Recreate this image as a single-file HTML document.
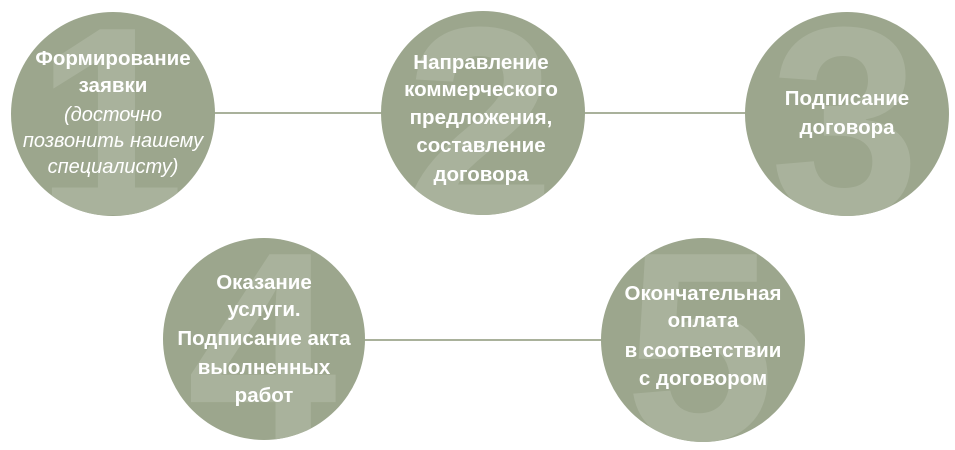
<!DOCTYPE html>
<html><head><meta charset="utf-8"><style>
html,body{margin:0;padding:0;background:#fff;width:955px;height:450px;overflow:hidden}
svg{display:block}
text{font-family:"Liberation Sans",sans-serif;fill:#fff;text-anchor:middle}
.b{font-weight:bold;font-size:20.5px}
.i{font-style:italic;font-size:20px}
.d{font-size:270px;fill:#a9b29c;font-weight:bold}
</style></head><body>
<svg width="955" height="450" viewBox="0 0 955 450" xmlns="http://www.w3.org/2000/svg">
<defs>
<clipPath id="c1"><circle cx="113" cy="114" r="102"/></clipPath>
<clipPath id="c2"><circle cx="483" cy="113" r="102"/></clipPath>
<clipPath id="c3"><circle cx="847" cy="114" r="102"/></clipPath>
<clipPath id="c4"><circle cx="264" cy="339" r="101"/></clipPath>
<clipPath id="c5"><circle cx="703" cy="340" r="102"/></clipPath>
</defs>
<line x1="210" y1="113" x2="390" y2="113" stroke="#a9b19b" stroke-width="2"/>
<line x1="580" y1="113" x2="750" y2="113" stroke="#a9b19b" stroke-width="2"/>
<line x1="360" y1="340" x2="610" y2="340" stroke="#a9b19b" stroke-width="2"/>
<circle cx="113" cy="114" r="102" fill="#9ca68d"/>
<circle cx="483" cy="113" r="102" fill="#9ca68d"/>
<circle cx="847" cy="114" r="102" fill="#9ca68d"/>
<circle cx="264" cy="339" r="101" fill="#9ca68d"/>
<circle cx="703" cy="340" r="102" fill="#9ca68d"/>
<g clip-path="url(#c1)"><text class="d" x="110" y="215">1</text></g>
<g clip-path="url(#c2)"><text class="d" x="480" y="215">2</text></g>
<g clip-path="url(#c3)"><text class="d" x="845" y="215">3</text></g>
<g clip-path="url(#c4)"><text class="d" x="262" y="440">4</text></g>
<g clip-path="url(#c5)"><text class="d" x="700" y="440">5</text></g>
<text class="b" x="113" y="65">Формирование</text>
<text class="b" x="113" y="92">заявки</text>
<text class="i" x="113" y="121">(досточно</text>
<text class="i" x="113" y="147">позвонить нашему</text>
<text class="i" x="113" y="173">специалисту)</text>
<text class="b" x="481" y="69">Направление</text>
<text class="b" x="481" y="96">коммерческого</text>
<text class="b" x="481" y="124">предложения,</text>
<text class="b" x="481" y="152">составление</text>
<text class="b" x="481" y="181">договора</text>
<text class="b" x="847" y="105">Подписание</text>
<text class="b" x="847" y="134">договора</text>
<text class="b" x="264" y="289">Оказание</text>
<text class="b" x="264" y="316">услуги.</text>
<text class="b" x="264" y="345">Подписание акта</text>
<text class="b" x="264" y="374">выолненных</text>
<text class="b" x="264" y="402">работ</text>
<text class="b" x="703" y="300">Окончательная</text>
<text class="b" x="703" y="327">оплата</text>
<text class="b" x="703" y="357">в соответствии</text>
<text class="b" x="703" y="385">с договором</text>
</svg>
</body></html>
